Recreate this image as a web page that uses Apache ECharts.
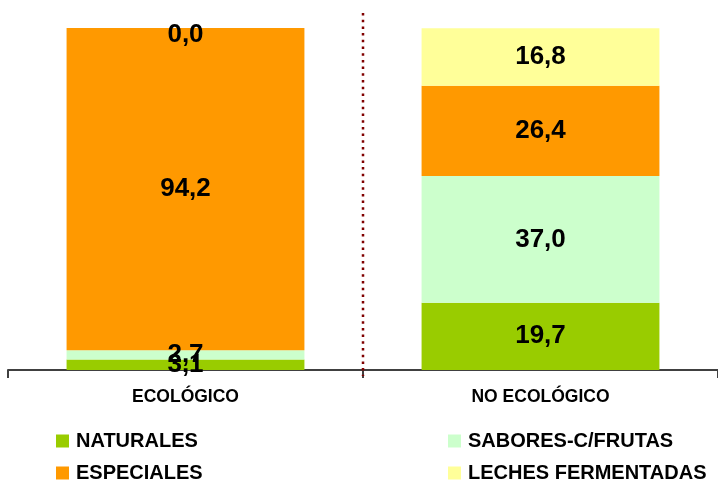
<!DOCTYPE html>
<html>
<head>
<meta charset="utf-8">
<script src="https://cdn.jsdelivr.net/npm/echarts@6/dist/echarts.min.js"></script>
<style>
html,body{margin:0;padding:0;background:#fff;}
#chart{width:718px;height:482px;}
</style>
</head>
<body>
<div id="chart"></div>
<script>
var categories = ['ECOLÓGICO', 'NO ECOLÓGICO'];
var seriesNames = ['NATURALES', 'SABORES-C/FRUTAS', 'ESPECIALES', 'LECHES FERMENTADAS'];
var naturales = [3.1, 19.7];
var sabores = [2.7, 37.0];
var especiales = [94.2, 26.4];
var leches = [0.0, 16.8];
var colors = ['#99CC00', '#CCFFCC', '#FF9900', '#FFFF99'];
var values = [naturales, sabores, especiales, leches];

var FONT = "'Liberation Sans', Arial, sans-serif";

function fmt(v) { return v.toFixed(1).replace('.', ','); }

var series = seriesNames.map(function (name, i) {
  return {
    name: name,
    type: 'bar',
    stack: 'total',
    barWidth: '67%',
    itemStyle: { color: colors[i] },
    label: {
      show: true,
      position: 'inside',
      formatter: function (p) { return fmt(p.value); },
      color: '#000',
      fontFamily: FONT,
      fontWeight: 'bold',
      fontSize: 26
    },
    emphasis: { disabled: true },
    data: values[i].map(function (v) {
      return v === 0 ? { value: v, label: { offset: [0, 7] } } : v;
    })
  };
});

var legendText = { color: '#000', fontFamily: FONT, fontWeight: 'bold', fontSize: 20, padding: [0, 0, 0, 2] };
var legendPos = [[56, 431], [448, 431], [56, 463], [448, 463]];
var legends = seriesNames.map(function (name, i) {
  return {
    data: [name],
    left: legendPos[i][0], top: legendPos[i][1],
    padding: 0,
    itemWidth: 13, itemHeight: 13,
    icon: 'rect', selectedMode: false,
    textStyle: legendText
  };
});

var chart = echarts.init(document.getElementById('chart'));
chart.setOption({
  animation: false,
  grid: { left: 8, right: 0, top: 28, bottom: 112 },
  legend: legends,
  xAxis: {
    type: 'category',
    data: categories,
    axisLine: { lineStyle: { color: '#404040', width: 2 } },
    axisTick: { show: true, length: 8, lineStyle: { color: '#404040', width: 2 } },
    axisLabel: { color: '#000', fontFamily: FONT, fontWeight: 'bold', fontSize: 17.5, margin: 18 },
    splitLine: { show: false }
  },
  yAxis: {
    type: 'value', min: 0, max: 100, show: false,
    splitLine: { show: false }
  },
  series: series
});

var x0 = chart.convertToPixel({ xAxisIndex: 0 }, categories[0]);
var x1 = chart.convertToPixel({ xAxisIndex: 0 }, categories[1]);
var xm = (x0 + x1) / 2;
chart.setOption({
  graphic: [{
    type: 'line',
    shape: { x1: xm, y1: 13, x2: xm, y2: 376 },
    style: { stroke: '#800000', lineWidth: 2.5, lineDash: [2.5, 4.2] },
    z: 10
  }]
});
</script>
</body>
</html>
